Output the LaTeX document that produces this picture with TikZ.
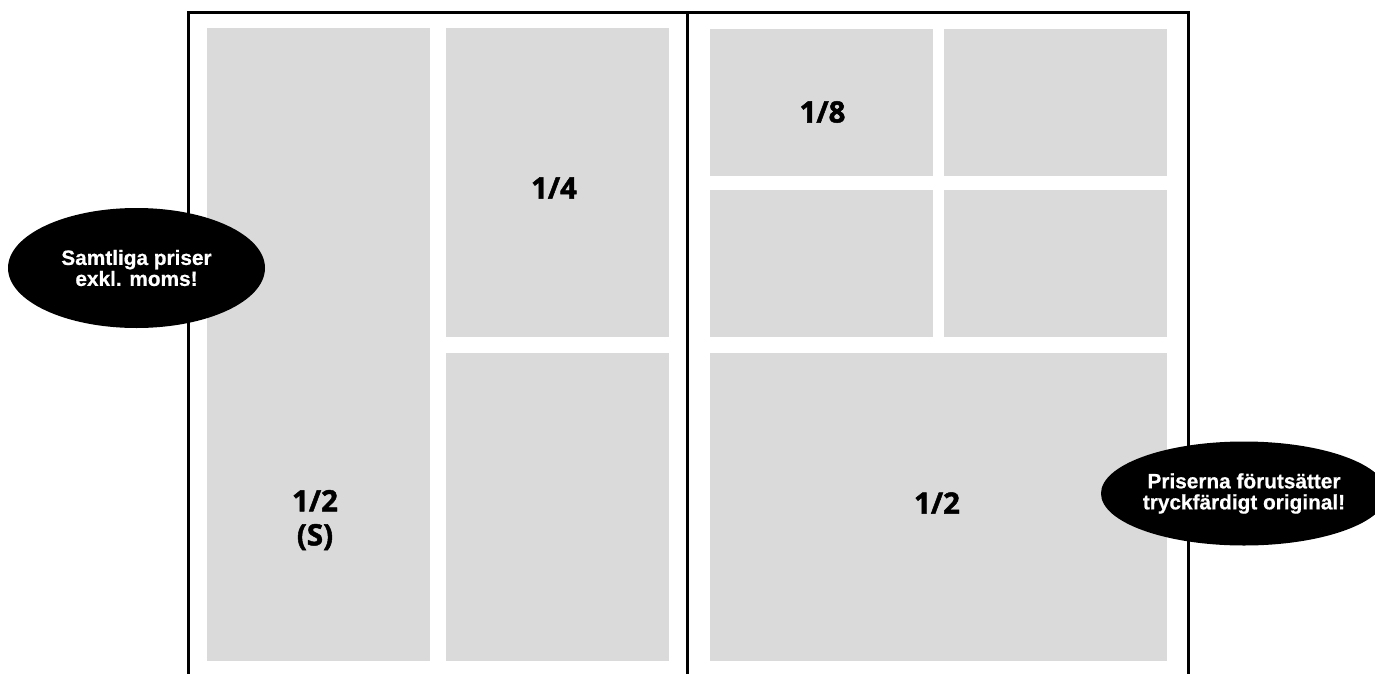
\documentclass[tikz,border=0pt]{standalone}
\usepackage{fontspec}
\usepackage{xcolor}
\usepackage{tikz}
\usetikzlibrary{positioning,shapes.geometric}
\newfontfamily\sizefont{Open Sans}[BoldFeatures={FakeBold=1.6}]
\newfontfamily\notefont{Liberation Sans}[BoldFeatures={FakeBold=0.6}]
\definecolor{slotgray}{RGB}{217,218,217}

\begin{document}
\begin{tikzpicture}[x=1pt,y=-1pt,
    slot/.style={fill=slotgray,inner sep=0pt,anchor=north west},
    sizelab/.style={font=\sizefont\bfseries\fontsize{29.5}{34}\selectfont,align=center},
    note/.style={ellipse,fill=black,text=white,inner sep=0pt,align=center,
        font=\notefont\bfseries\fontsize{20.8}{21}\selectfont}]
\useasboundingbox (0,0) rectangle (1375,674);
% ad slots, left page
\node[slot,minimum width=223pt,minimum height=633pt] (halfS) at (207,28) {};
\node[slot,minimum width=223pt,minimum height=309pt] (quarterA) at (446,28) {};
\node[slot,minimum width=223pt,minimum height=308pt] (quarterB) at (446,353) {};
% ad slots, right page
\foreach \col/\xx in {a/710,b/944} {
    \foreach \row/\yy in {1/29,2/190} {
        \node[slot,minimum width=223pt,minimum height=147pt] (eighth\col\row) at (\xx,\yy) {};
    }
}
\node[slot,minimum width=457pt,minimum height=308pt] (halfR) at (710,353) {};
% page frame
\coordinate (tl) at (188,12.5);
\coordinate (tm) at (687.5,12.5);
\coordinate (tr) at (1188,12.5);
\draw[line width=3pt] (tl |- 0,674) -- (tl) -- (tr) -- (tr |- 0,674);
\draw[line width=3pt] (tm) -- (tm |- 0,674);
% labels
\node[sizelab] (labhalfS) at (315,520) {1/2\\(S)};
\node[sizelab] (labquarter) at (554,188) {1/4};
\node[sizelab] (labeighth) at (822.5,112) {1/8};
\node[sizelab] (labhalfR) at (937,503) {1/2};
% notes
\node[note,minimum width=257pt,minimum height=120pt] (noteVAT) at (136.5,268) {Samtliga priser\\exkl. moms!};
\node[note,minimum width=260pt,minimum height=104pt] (noteorig) at (1244,493.5) {Priserna förutsätter\\tryckfärdigt original!};
\end{tikzpicture}
\end{document}
